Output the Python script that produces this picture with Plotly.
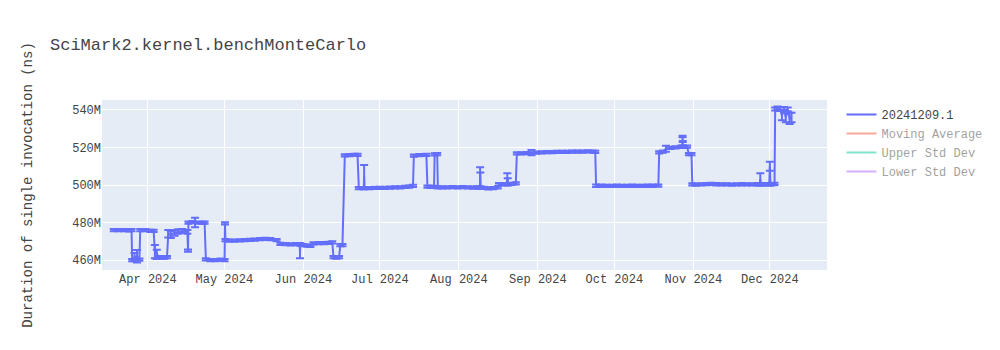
import plotly.graph_objects as go

# --- data (values in millions of ns); dates, values and errors are parallel lists ---
dates = [
    "2024-03-18 15:00", "2024-03-20 12:00", "2024-03-22 12:00", "2024-03-24 12:00", "2024-03-25 14:00",
    "2024-03-25 20:00", "2024-03-26 18:00", "2024-03-27 18:00", "2024-03-28 16:00",
    "2024-03-29 00:00", "2024-03-31 00:00", "2024-04-02 00:00", "2024-04-03 06:00",
    "2024-04-03 18:00", "2024-04-04 12:00", "2024-04-05 12:00", "2024-04-06 12:00", "2024-04-07 12:00", "2024-04-08 12:00",
    "2024-04-09 00:00", "2024-04-10 00:00", "2024-04-11 12:00", "2024-04-13 00:00", "2024-04-14 12:00", "2024-04-16 12:00",
    "2024-04-16 18:00",
    "2024-04-16 22:00", "2024-04-18 12:00", "2024-04-19 12:00", "2024-04-21 00:00", "2024-04-22 12:00", "2024-04-23 06:00",
    "2024-04-23 18:00", "2024-04-25 12:00", "2024-04-27 12:00", "2024-04-29 12:00", "2024-05-01 02:00",
    "2024-05-01 06:00",
    "2024-05-01 10:00", "2024-05-03 00:00", "2024-05-05 00:00", "2024-05-07 00:00", "2024-05-09 00:00", "2024-05-11 00:00",
    "2024-05-13 00:00", "2024-05-15 00:00", "2024-05-17 00:00", "2024-05-19 00:00", "2024-05-21 12:00",
    "2024-05-23 00:00", "2024-05-25 00:00", "2024-05-27 00:00", "2024-05-29 00:00", "2024-05-30 12:00",
    "2024-05-30 16:00",
    "2024-05-30 20:00", "2024-06-01 00:00", "2024-06-02 12:00", "2024-06-03 18:00",
    "2024-06-05 00:00", "2024-06-07 00:00", "2024-06-09 00:00", "2024-06-11 00:00", "2024-06-12 08:00",
    "2024-06-12 20:00", "2024-06-14 00:00", "2024-06-15 00:00",
    "2024-06-15 12:00", "2024-06-16 08:00",
    "2024-06-17 06:00", "2024-06-19 00:00", "2024-06-21 00:00", "2024-06-22 06:00",
    "2024-06-22 18:00", "2024-06-24 16:00", "2024-06-24 20:00", "2024-06-25 00:00", "2024-06-27 00:00",
    "2024-06-29 00:00", "2024-07-01 00:00", "2024-07-03 00:00", "2024-07-05 00:00", "2024-07-07 00:00",
    "2024-07-09 00:00", "2024-07-11 00:00", "2024-07-12 12:00", "2024-07-14 00:00",
    "2024-07-14 08:00", "2024-07-16 12:00", "2024-07-19 06:00",
    "2024-07-19 16:00", "2024-07-21 00:00", "2024-07-22 06:00",
    "2024-07-22 12:00", "2024-07-23 12:00",
    "2024-07-23 18:00", "2024-07-25 12:00", "2024-07-27 12:00", "2024-07-29 12:00", "2024-07-31 12:00",
    "2024-08-02 12:00", "2024-08-04 12:00", "2024-08-06 12:00", "2024-08-08 00:00", "2024-08-09 06:00",
    "2024-08-09 08:00", "2024-08-09 10:00",
    "2024-08-09 12:00", "2024-08-11 00:00", "2024-08-12 12:00", "2024-08-14 12:00", "2024-08-16 06:00",
    "2024-08-16 18:00", "2024-08-18 12:00", "2024-08-19 20:00", "2024-08-20 00:00", "2024-08-20 04:00",
    "2024-08-20 08:00", "2024-08-21 18:00", "2024-08-23 08:00",
    "2024-08-23 18:00", "2024-08-25 12:00", "2024-08-27 12:00", "2024-08-29 12:00", "2024-08-31 12:00",
    "2024-09-02 12:00", "2024-09-04 12:00", "2024-09-06 12:00", "2024-09-08 12:00", "2024-09-10 12:00",
    "2024-09-12 12:00", "2024-09-14 12:00", "2024-09-16 12:00", "2024-09-18 12:00", "2024-09-20 12:00",
    "2024-09-22 12:00", "2024-09-23 12:00",
    "2024-09-23 20:00", "2024-09-26 00:00", "2024-09-28 00:00", "2024-09-30 00:00", "2024-10-02 00:00",
    "2024-10-04 00:00", "2024-10-06 00:00", "2024-10-08 00:00", "2024-10-10 00:00", "2024-10-12 00:00",
    "2024-10-14 00:00", "2024-10-16 00:00", "2024-10-18 06:00",
    "2024-10-18 14:00", "2024-10-20 00:00", "2024-10-21 06:00", "2024-10-23 00:00", "2024-10-25 00:00",
    "2024-10-27 00:00", "2024-10-27 16:00", "2024-10-27 18:00", "2024-10-27 20:00", "2024-10-27 22:00",
    "2024-10-29 12:00",
    "2024-10-30 06:00", "2024-10-31 06:00",
    "2024-10-31 14:00", "2024-11-02 00:00", "2024-11-04 00:00", "2024-11-06 00:00", "2024-11-08 00:00",
    "2024-11-10 00:00", "2024-11-12 00:00", "2024-11-14 00:00", "2024-11-16 00:00", "2024-11-18 00:00",
    "2024-11-20 00:00", "2024-11-22 00:00", "2024-11-24 00:00", "2024-11-26 00:00", "2024-11-27 02:00",
    "2024-11-27 06:00", "2024-11-27 10:00",
    "2024-11-28 12:00", "2024-11-30 00:00", "2024-11-30 18:00", "2024-12-01 00:00", "2024-12-01 06:00",
    "2024-12-02 00:00", "2024-12-02 20:00",
    "2024-12-03 02:00", "2024-12-04 00:00", "2024-12-05 00:00", "2024-12-05 18:00", "2024-12-06 12:00",
    "2024-12-07 06:00", "2024-12-08 00:00", "2024-12-08 18:00", "2024-12-09 12:00",
]

values_m = [
    476.0, 475.9, 476.0, 475.8, 475.9,
    460.0, 461.5, 462.0, 460.2,
    476.0, 475.9, 475.6, 475.5,
    464.5, 463.0, 461.5, 461.3, 461.3, 461.6,
    474.0, 473.5, 474.5, 475.2, 475.5, 475.0,
    465.0,
    480.0, 480.2, 480.0, 480.0, 479.8, 479.9,
    460.3, 460.0, 460.0, 460.2, 460.0,
    479.5,
    470.6, 470.3, 470.4, 470.5, 470.6, 470.7,
    470.9, 471.2, 471.3, 471.1, 470.6,
    468.6, 468.5, 468.4, 468.5, 468.5,
    464.6,
    468.2, 467.9, 467.7, 467.6,
    468.9, 469.0, 469.0, 469.2, 469.4,
    461.5, 461.3, 461.5,
    468.0, 468.0,
    515.8, 515.9, 516.0, 516.0,
    498.3, 498.3, 504.5, 498.3, 498.4,
    498.5, 498.5, 498.5, 498.6, 498.7,
    498.8, 499.0, 499.1, 499.5,
    515.6, 515.9, 516.0,
    499.2, 499.0, 499.0,
    516.3, 516.5,
    498.8, 498.7, 498.8, 498.9, 498.8,
    498.9, 498.7, 498.6, 498.7, 498.6,
    504.0, 502.6,
    498.6, 498.5, 498.2, 498.3, 498.7,
    500.4, 500.5, 500.5, 503.0, 501.8,
    500.5, 500.6, 500.8,
    516.8, 516.9, 517.0, 517.3, 517.2,
    517.4, 517.5, 517.5, 517.6, 517.7,
    517.7, 517.8, 517.8, 517.8, 517.9,
    517.8, 517.7,
    499.6, 499.6, 499.5, 499.5, 499.6,
    499.5, 499.5, 499.6, 499.5, 499.5,
    499.6, 499.6, 499.7,
    517.4, 517.8, 519.3, 519.8, 520.0,
    520.3, 520.5, 525.9, 523.2, 520.5,
    520.5,
    516.5, 516.4,
    500.3, 500.2, 500.3, 500.5, 500.6,
    500.4, 500.3, 500.3, 500.2, 500.3,
    500.4, 500.3, 500.3, 500.4, 500.3,
    503.1, 500.4,
    500.4, 500.5, 500.3, 510.0, 500.4,
    500.5, 500.6,
    540.5, 541.0, 540.5, 537.0, 540.8,
    536.0, 540.3, 535.5, 536.0,
]

errors_m = [
    0.6, 0.6, 0.6, 0.6, 0.6,
    0.6, 2.2, 3.3, 0.6,
    0.6, 0.6, 0.6, 0.6,
    3.5, 2.5, 0.6, 0.6, 0.6, 0.6,
    2.0, 1.8, 1.5, 1.2, 1.0, 1.0,
    0.6,
    0.6, 0.6, 2.5, 0.6, 0.6, 0.6,
    0.6, 0.6, 0.6, 0.6, 0.6,
    0.6,
    0.6, 0.6, 0.6, 0.6, 0.6, 0.6,
    0.6, 0.6, 0.6, 0.6, 0.6,
    0.6, 0.6, 0.6, 0.6, 0.6,
    3.7,
    0.6, 0.6, 0.6, 0.6,
    0.6, 0.6, 0.6, 0.6, 0.6,
    0.6, 0.6, 0.6,
    0.6, 0.6,
    0.6, 0.6, 0.6, 0.6,
    0.6, 0.6, 6.2, 0.6, 0.6,
    0.6, 0.6, 0.6, 0.6, 0.6,
    0.6, 0.6, 0.6, 0.6,
    0.6, 0.6, 0.6,
    0.6, 0.6, 0.6,
    0.6, 0.6,
    0.6, 0.6, 0.6, 0.6, 0.6,
    0.6, 0.6, 0.6, 0.6, 0.6,
    5.4, 4.0,
    0.6, 0.6, 0.6, 0.6, 0.6,
    0.6, 0.6, 0.6, 3.2, 1.8,
    0.6, 0.6, 0.6,
    0.6, 0.6, 0.6, 1.4, 0.6,
    0.6, 0.6, 0.6, 0.6, 0.6,
    0.6, 0.6, 0.6, 0.6, 0.6,
    0.6, 0.6,
    0.6, 0.6, 0.6, 0.6, 0.6,
    0.6, 0.6, 0.6, 0.6, 0.6,
    0.6, 0.6, 0.6,
    0.6, 0.6, 1.6, 0.6, 0.6,
    0.6, 0.6, 0.4, 0.3, 0.6,
    0.6,
    0.6, 0.6,
    0.6, 0.6, 0.6, 0.6, 0.6,
    0.6, 0.6, 0.6, 0.6, 0.6,
    0.6, 0.6, 0.6, 0.6, 0.6,
    3.1, 0.6,
    0.6, 0.6, 0.6, 2.4, 0.6,
    0.6, 0.6,
    0.8, 0.8, 1.0, 2.5, 0.8,
    2.5, 1.0, 3.0, 2.5,
]

series_name = "20241209.1"
hidden_series = ["Moving Average", "Upper Std Dev", "Lower Std Dev"]
hidden_colors = ["#EF553B", "#00cc96", "#ab63fa"]

title_text = "SciMark2.kernel.benchMonteCarlo"
y_title = "Duration of single invocation (ns)"

values = [v * 1e6 for v in values_m]
errors = [e * 1e6 for e in errors_m]

FONT = "'Courier New', Courier, 'Nimbus Mono PS', 'Nimbus Mono L', FreeMono, 'Liberation Mono', monospace"

fig = go.Figure()
fig.add_trace(go.Scatter(
    x=dates, y=values, mode="lines", name=series_name,
    line=dict(color="#636efa", width=2),
    error_y=dict(type="data", array=errors, visible=True, color="#636efa", thickness=2, width=4),
))
for nm, col in zip(hidden_series, hidden_colors):
    fig.add_trace(go.Scatter(x=[None], y=[None], mode="lines", name=nm,
                             line=dict(color=col), visible="legendonly"))

fig.update_layout(
    width=1000, height=350,
    template="plotly",
    font=dict(family=FONT, color="#444"),
    margin=dict(l=102, t=100, b=80),
    title=dict(text=title_text),
    yaxis=dict(title=dict(text=y_title, standoff=36), range=[454.67e6, 545.33e6]),
    xaxis=dict(range=["2024-03-14 00:00", "2024-12-23 10:00"]),
    showlegend=True,
)

fig.write_html("out.html")
